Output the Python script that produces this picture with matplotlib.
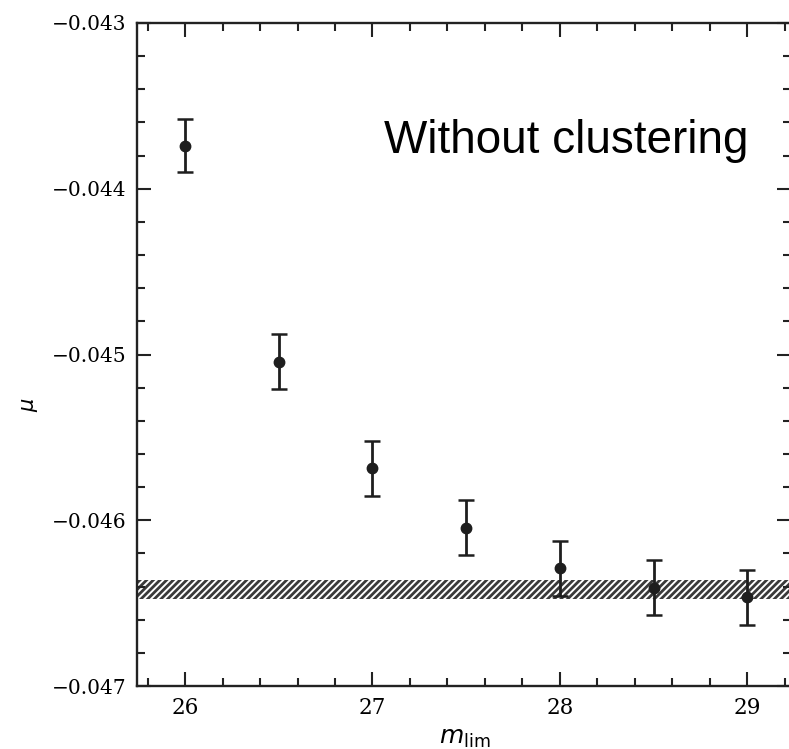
import numpy as np
import matplotlib
matplotlib.use("Agg")
import matplotlib.pyplot as plt
from matplotlib.ticker import MultipleLocator, FuncFormatter

m_lim = [26.0, 26.5, 27.0, 27.5, 28.0, 28.5, 29.0]
mu = [-0.04374, -0.045043, -0.045685, -0.046045, -0.04629, -0.046407, -0.046465]
mu_err = [0.000158, 0.000166, 0.000166, 0.000166, 0.000164, 0.000166, 0.000166]

band_lo = -0.046476
band_hi = -0.046361

plt.rcParams['font.family'] = 'DejaVu Serif'
plt.rcParams['hatch.linewidth'] = 2.0
plt.rcParams['hatch.color'] = '#3a3a3a'

fig = plt.figure(figsize=(7.89, 7.49), dpi=100)
ax = fig.add_axes([0.174, 0.0841, 0.829, 0.8852])

ax.fill_between([25.5, 29.5], band_lo, band_hi, facecolor='none',
                edgecolor='#3a3a3a', hatch='/////', linewidth=0)

ax.errorbar(m_lim, mu, yerr=mu_err, fmt='o', color='#1e1e1e',
            markersize=7.5, elinewidth=2.0, capsize=5.5, capthick=1.8)

ax.set_xlim(25.745, 29.235)
ax.set_ylim(-0.047, -0.043)

ax.xaxis.set_major_locator(MultipleLocator(1))
ax.xaxis.set_minor_locator(MultipleLocator(0.2))
ax.yaxis.set_major_locator(MultipleLocator(0.001))
ax.yaxis.set_minor_locator(MultipleLocator(0.0002))
ax.yaxis.set_major_formatter(FuncFormatter(lambda v, p: f"{v:.3f}".replace('-', '\u2212')))

ax.tick_params(which='both', direction='in', top=True, right=True, width=1.5,
               color='#222222')
ax.tick_params(which='major', length=10, labelsize=14.5, pad=8)
ax.tick_params(axis='x', which='major', labelsize=15.5, pad=8)
ax.tick_params(which='minor', length=6)

for s in ax.spines.values():
    s.set_linewidth(1.7)
    s.set_color('#222222')

ax.set_xlabel(r'$m_{\rm lim}$', fontsize=18, labelpad=6)
ax.set_ylabel(r'$\mu$', fontsize=15)
ax.yaxis.set_label_coords(-0.149, 0.424)

ax.text(0.377, 0.804, 'Without clustering', transform=ax.transAxes,
        family='Liberation Sans', fontsize=33, va='baseline', ha='left')

fig.savefig('out.png', dpi=100)
